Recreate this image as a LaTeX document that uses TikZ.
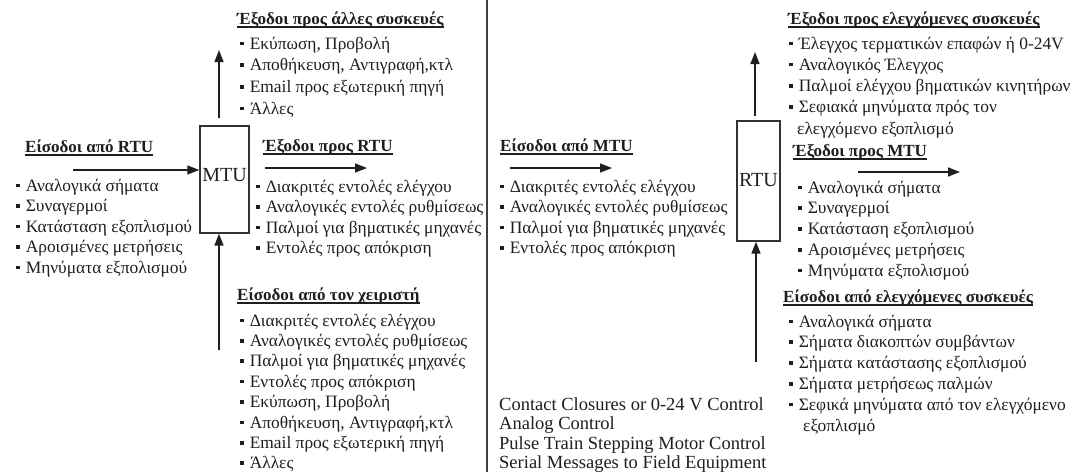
\documentclass[tikz,border=0pt]{standalone}
\usepackage{fontspec}
\setmainfont{Liberation Serif}
\usetikzlibrary{arrows.meta}
% small square list bullet
\newcommand{\sqb}{\raisebox{0.22em}{\rule{3.6pt}{3.6pt}}\hspace{6pt}}

\tikzset{
  txt/.style={anchor=base west, inner sep=0pt, text=black!88,
              font=\fontsize{17.4}{20}\selectfont},
  head/.style={txt, font=\fontsize{17}{20}\selectfont\bfseries},
  entxt/.style={txt, font=\fontsize{18.5}{20}\selectfont},
  unitbox/.style={draw=black!80, line width=1.4pt, inner sep=0pt,
                  text=black!88, font=\fontsize{20}{22}\selectfont},
  arr/.style={draw=black!88, line width=1.6pt,
              -{Triangle[length=12pt,width=9pt]}},
  uline/.style={draw=black!88, line width=1.1pt},
  sepline/.style={draw=black!75, line width=1.4pt},
}

\begin{document}
\begin{tikzpicture}[x=1pt,y=-1pt]
\useasboundingbox[fill=white] (0,0) rectangle (1080,472);

% ---------------- master station side ----------------
\node[unitbox, minimum width=49pt, minimum height=107pt] (mtu) at (224.5,179.5) {};
\node[unitbox, draw=none] (mtulbl) at (224.5,175) {MTU};

% outputs to other devices
\node[head] (hOther) at (237,24) {Έξοδοι προς άλλες συσκευές};
\draw[uline] ([yshift=-3pt]hOther.base west) -- ([yshift=-3pt]hOther.base east);
\foreach \t [count=\i] in {{Εκύπωση, Προβολή}, {Αποθήκευση, Αντιγραφή,κτλ},
    {Email προς εξωτερική πηγή}, {Άλλες}}
  \node[txt] (oth\i) at (240,{49+21.7*(\i-1)}) {\sqb\t};
\coordinate (mtuUpS) at (219,118);
\coordinate (mtuUpE) at (219,50);
\draw[arr] (mtuUpS) -- (mtuUpE);

% inputs from RTU
\node[head] (hInRtu) at (25,152) {Είσοδοι από RTU};
\draw[uline] ([yshift=-3pt]hInRtu.base west) -- ([yshift=-3pt]hInRtu.base east);
\coordinate (inRtuS) at (73,170);
\draw[arr] (inRtuS) -- (inRtuS -| mtu.west);
\foreach \t [count=\i] in {{Αναλογικά σήματα}, {Συναγερμοί}, {Κατάσταση εξοπλισμού},
    {Αροισμένες μετρήσεις}, {Μηνύματα εξπολισμού}}
  \node[txt] (inr\i) at (16,{191+20.5*(\i-1)}) {\sqb\t};

% outputs to RTU
\node[head] (hOutRtu) at (263,151) {Έξοδοι προς RTU};
\draw[uline] ([yshift=-3pt]hOutRtu.base west) -- ([yshift=-3pt]hOutRtu.base east);
\coordinate (outRtuS) at (265,168);
\coordinate (outRtuE) at (367,168);
\draw[arr] (outRtuS) -- (outRtuE);
\foreach \t [count=\i] in {{Διακριτές εντολές ελέγχου}, {Αναλογικές εντολές ρυθμίσεως},
    {Παλμοί για βηματικές μηχανές}, {Εντολές προς απόκριση}}
  \node[txt] (otr\i) at (256,{192+20.6*(\i-1)}) {\sqb\t};

% operator inputs
\coordinate (opS) at (219,350);
\draw[arr] (opS) -- (opS |- mtu.south);
\node[head] (hOp) at (237,300) {Είσοδοι από τον χειριστή};
\draw[uline] ([yshift=-3pt]hOp.base west) -- ([yshift=-3pt]hOp.base east);
\foreach \t [count=\i] in {{Διακριτές εντολές ελέγχου}, {Αναλογικές εντολές ρυθμίσεως},
    {Παλμοί για βηματικές μηχανές}, {Εντολές προς απόκριση}, {Εκύπωση, Προβολή},
    {Αποθήκευση, Αντιγραφή,κτλ}, {Email προς εξωτερική πηγή}, {Άλλες}}
  \node[txt] (op\i) at (240,{326+20.4*(\i-1)}) {\sqb\t};

% ---------------- separator ----------------
\coordinate (sepT) at (487,0);
\coordinate (sepB) at (487,472);
\draw[sepline] (sepT) -- (sepB);

% ---------------- remote station side ----------------
\node[unitbox, minimum width=43pt, minimum height=120pt] (rtu) at (758.5,181) {};
\node[unitbox, draw=none] (rtulbl) at (758.5,180) {RTU};

% inputs from MTU
\node[head] (hInMtu) at (500,151) {Είσοδοι από MTU};
\draw[uline] ([yshift=-3pt]hInMtu.base west) -- ([yshift=-3pt]hInMtu.base east);
\coordinate (inMtuS) at (510,168);
\coordinate (inMtuE) at (612,168);
\draw[arr] (inMtuS) -- (inMtuE);
\foreach \t [count=\i] in {{Διακριτές εντολές ελέγχου}, {Αναλογικές εντολές ρυθμίσεως},
    {Παλμοί για βηματικές μηχανές}, {Εντολές προς απόκριση}}
  \node[txt] (inm\i) at (500,{192+20.6*(\i-1)}) {\sqb\t};

% outputs to controlled devices
\coordinate (rtuUpS) at (755,116);
\coordinate (rtuUpE) at (755,52);
\draw[arr] (rtuUpS) -- (rtuUpE);
\node[head] (hCtl) at (788,24) {Έξοδοι προς ελεγχόμενες συσκευές};
\draw[uline] ([yshift=-3pt]hCtl.base west) -- ([yshift=-3pt]hCtl.base east);
\foreach \t [count=\i] in {{Έλεγχος τερματικών επαφών ή 0-24V}, {Αναλογικός Έλεγχος},
    {Παλμοί ελέγχου βηματικών κινητήρων}, {Σεφιακά μηνύματα πρός τον}}
  \node[txt] (ctl\i) at (789,{49+21.2*(\i-1)}) {\sqb\t};
\node[txt] (ctl5) at (797,134.6) {ελεγχόμενο εξοπλισμό};

% outputs to MTU
\node[head] (hOutMtu) at (793,156) {Έξοδοι προς MTU};
\draw[uline] ([yshift=-3pt]hOutMtu.base west) -- ([yshift=-3pt]hOutMtu.base east);
\coordinate (outMtuS) at (858,172);
\coordinate (outMtuE) at (960,172);
\draw[arr] (outMtuS) -- (outMtuE);
\foreach \t [count=\i] in {{Αναλογικά σήματα}, {Συναγερμοί}, {Κατάσταση εξοπλισμού},
    {Αροισμένες μετρήσεις}, {Μηνύματα εξπολισμού}}
  \node[txt] (om\i) at (798,{193+20.8*(\i-1)}) {\sqb\t};

% inputs from controlled devices
\coordinate (rtuInS) at (756,362);
\draw[arr] (rtuInS) -- (rtuInS |- rtu.south);
\node[head] (hFld) at (783,302) {Είσοδοι από ελεγχόμενες συσκευές};
\draw[uline] ([yshift=-3pt]hFld.base west) -- ([yshift=-3pt]hFld.base east);
\foreach \t [count=\i] in {{Αναλογικά σήματα}, {Σήματα διακοπτών συμβάντων},
    {Σήματα κατάστασης εξοπλισμού}, {Σήματα μετρήσεως παλμών},
    {Σεφικά μηνύματα από τον ελεγχόμενο}}
  \node[txt] (fld\i) at (789,{327+20.8*(\i-1)}) {\sqb\t};
\node[txt] (fld6) at (803,431) {εξοπλισμό};

% English legend
\foreach \t [count=\i] in {{Contact Closures or 0-24 V Control}, {Analog Control},
    {Pulse Train Stepping Motor Control}, {Serial Messages to Field Equipment}}
  \node[entxt] (en\i) at (499,{410+19.6*(\i-1)}) {\t};
\end{tikzpicture}
\end{document}
